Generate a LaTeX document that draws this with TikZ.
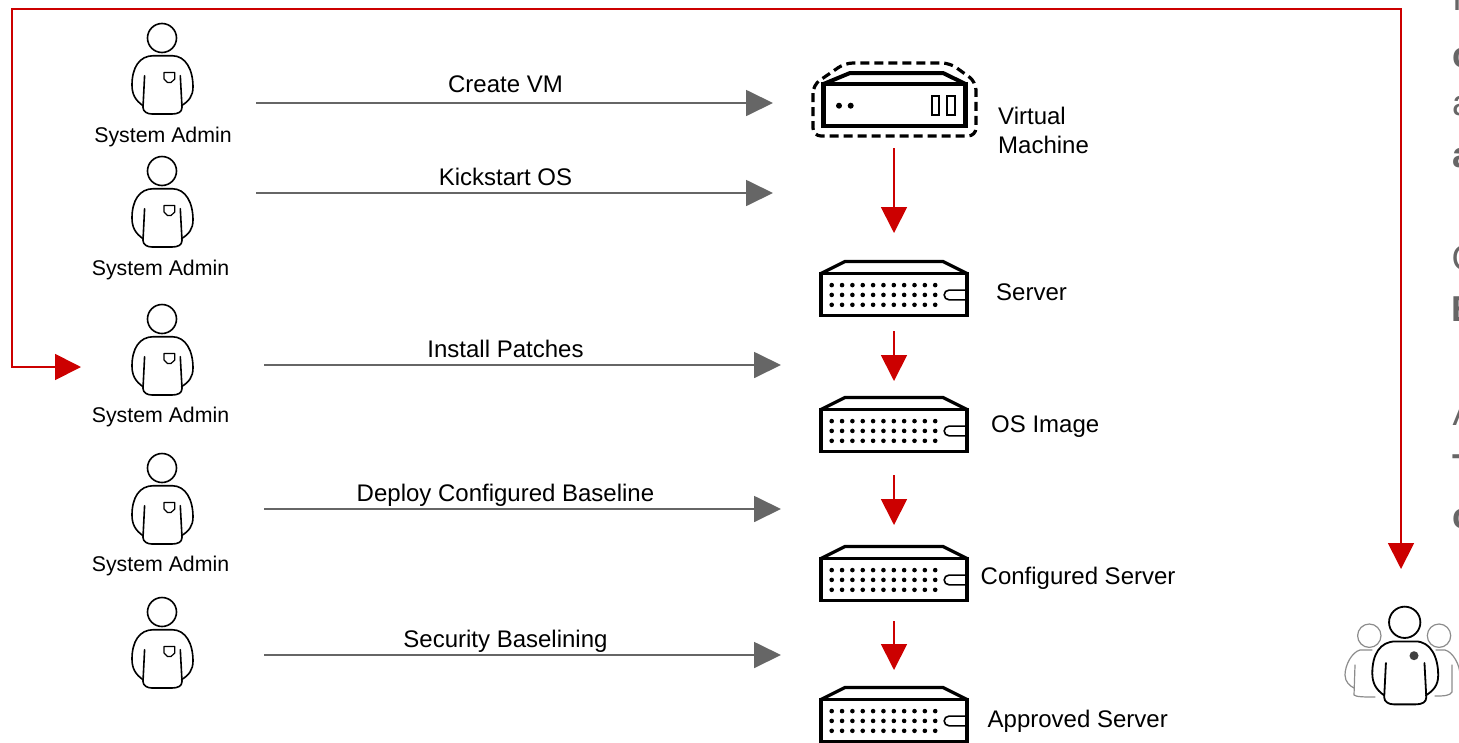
\documentclass[tikz,border=0pt]{standalone}
\usepackage{fontspec}
\setmainfont{Liberation Sans}
\usetikzlibrary{arrows.meta}
\definecolor{flowred}{HTML}{CC0000}
\definecolor{flowgray}{HTML}{666666}
\tikzset{
  lab/.style={inner sep=0pt,font=\fontsize{24}{29}\selectfont,text=black,align=left},
  adminlab/.style={inner sep=0pt,font=\fontsize{21.3}{25}\selectfont,text=black},
  cutlab/.style={inner sep=0pt,anchor=base west,font=\fontsize{36}{36}\selectfont,text=flowgray},
  cutbold/.style={cutlab,font=\fontsize{36}{36}\selectfont\bfseries},
  grayarrow/.style={draw=flowgray,line width=1.8pt,-{Triangle[length=27pt,width=26pt]}},
  redarrow/.style={draw=flowred,line width=1.8pt,-{Triangle[length=26pt,width=26pt]}},
  redloop/.style={draw=flowred,line width=1.8pt,{Triangle[length=26pt,width=26pt]}-{Triangle[length=26pt,width=26pt]}},
  person/.pic={
    \draw[pic actions] (0,0) circle[radius=14.5];
    \draw[pic actions,line join=round,line cap=round] (-19,67.7) .. controls (-27,62) and (-30,56) .. (-30,47)
      .. controls (-30,30) and (-23,17.7) .. (-8.4,17.7) -- (10,17.7)
      .. controls (24,17.7) and (31,32) .. (31,49) .. controls (31,58) and (27,63) .. (19.5,67.7);
    \draw[pic actions,line join=round,line cap=round] (-17.4,37.7) -- (-19,69.4) .. controls (-19,73.5) and (-15,76) .. (-10,76)
      -- (10,76) .. controls (16,76) and (20,74) .. (20,69.4) -- (18.3,37.7);
  },
  pocket/.pic={
    \draw[pic actions,line join=round] (2,34.5) -- (12.8,34.5) -- (12.8,41) -- (9,44.5) -- (5.5,44.5) -- (2,41) -- cycle;
  },
  serverbox/.pic={
    \draw[line width=3.3pt,line join=miter,fill=white] (-73,12) -- (-73,54) -- (73,54) -- (73,12) -- cycle;
    \draw[line width=3.3pt,line join=round] (-73,12) -- (-49,0) -- (49,0) -- (73,12);
    \foreach \c in {0,...,10}{\foreach \r in {23.6,33.4,43.3}{
      \fill (-62.3+10.35*\c,\r) circle[radius=2.3];}}
    \draw[line width=1.6pt] (73,28.6) -- (55,28.6) arc[start angle=270,end angle=90,radius=4.85] -- (73,38.3);
  }
}
\begin{document}
\begin{tikzpicture}[x=1pt,y=-1pt]
\useasboundingbox (0,0) rectangle (1459,742);
\begin{scope}
\clip (0,0) rectangle (1459,742);

% administrators
\foreach \n/\y in {1/38,2/171,3/319,4/468,5/612}{
  \pic[line width=1.6pt] at (162,\y) {person};
  \pic[line width=1.2pt] at (162,\y) {pocket};
}
\node[adminlab] (adm1) at (163,137) {System Admin};
\node[adminlab] (adm2) at (160.5,270) {System Admin};
\node[adminlab] (adm3) at (160.5,417) {System Admin};
\node[adminlab] (adm4) at (160.5,566) {System Admin};

% virtual machine
\draw[line width=4.4pt,line join=miter] (823.5,84) -- (823.5,126) -- (965.5,126) -- (965.5,84) -- cycle;
\draw[line width=4pt,line join=round] (823.5,84) -- (850,73) -- (943,73) -- (965.5,84);
\fill (839,105.7) circle[radius=3];
\fill (850.7,105.7) circle[radius=3];
\draw[line width=2pt] (932,95.5) rectangle (938.5,115);
\draw[line width=2pt] (947,95.5) rectangle (955,115);
\draw[line width=3.2pt,dash pattern=on 9pt off 5pt,rounded corners=8pt] (813,85) -- (813,136) -- (976,136) -- (976,82) -- (950,63) -- (845,63) -- cycle;

% servers
\pic at (894,261.5) {serverbox};
\pic at (894,397.5) {serverbox};
\pic at (894,546.5) {serverbox};
\pic at (894,687.5) {serverbox};

% labels
\node[lab,anchor=west] (lvm) at (998,130) {Virtual\\Machine};
\node[lab,anchor=west] (ls1) at (996,292) {Server};
\node[lab,anchor=west] (ls2) at (991,427) {OS Image};
\node[lab,anchor=west] (ls3) at (980.5,578) {Configured Server};
\node[lab,anchor=west] (ls4) at (987.5,721) {Approved Server};

% action labels
\node[lab] (t1) at (505.5,84) {Create VM};
\node[lab] (t2) at (505.5,177) {Kickstart OS};
\node[lab] (t3) at (505.5,349) {Install Patches};
\node[lab] (t4) at (505.5,495) {Deploy Configured Baseline};
\node[lab] (t5) at (505.5,641) {Security Baselining};

% connector ends
\coordinate (a1s) at (256,103);  \coordinate (a1e) at (773,103);
\coordinate (a2s) at (256,193);  \coordinate (a2e) at (773,193);
\coordinate (a3s) at (264,365);  \coordinate (a3e) at (781,365);
\coordinate (a4s) at (264,509);  \coordinate (a4e) at (781,509);
\coordinate (a5s) at (264,655);  \coordinate (a5e) at (781,655);
\draw[grayarrow] (a1s) -- (a1e);
\draw[grayarrow] (a2s) -- (a2e);
\draw[grayarrow] (a3s) -- (a3e);
\draw[grayarrow] (a4s) -- (a4e);
\draw[grayarrow] (a5s) -- (a5e);

\coordinate (r1s) at (894,148); \coordinate (r1e) at (894,233);
\coordinate (r2s) at (894,331); \coordinate (r2e) at (894,381);
\coordinate (r3s) at (894,475); \coordinate (r3e) at (894,525);
\coordinate (r4s) at (894,621); \coordinate (r4e) at (894,670);
\draw[redarrow] (r1s) -- (r1e);
\draw[redarrow] (r2s) -- (r2e);
\draw[redarrow] (r3s) -- (r3e);
\draw[redarrow] (r4s) -- (r4e);

\coordinate (loopA) at (81,367);
\coordinate (loopB) at (1401,569);
\coordinate (loopC) at (12,9);
\coordinate (loopD) at (1401,9);
\draw[redloop] (loopA) -- (loopA -| loopC) -- (loopC) -- (loopD) -- (loopB);

% team
\begin{scope}[draw=black!45,line width=1.2pt,line join=round,line cap=round]
  \draw (1369.3,635.7) circle[radius=11.7];
  \draw (1439,635.7) circle[radius=11.7];
  \draw (1372,650) -- (1360,650) .. controls (1352,652) and (1345,665) .. (1345,675) .. controls (1345,682) and (1350,686) .. (1354,688);
  \draw (1355,665) -- (1354,695) .. controls (1356,697) and (1365,697) .. (1375,697);
  \draw (1436,650) -- (1445,650) .. controls (1453,652) and (1460,665) .. (1460,675);
  \draw (1452,665) -- (1452,692) .. controls (1450,696) and (1443,696) .. (1435,696);
\end{scope}
\pic[line width=1.8pt,scale=1.08,transform shape] at (1404.7,622.3) {person};
\fill[black!75] (1414,655.7) circle[radius=4.5];

% text cut off by the right edge
\node[cutlab] (c1) at (1452,10) {I};
\node[cutbold] (c2) at (1452,67) {c};
\node[cutlab] (c3) at (1452,115) {a};
\node[cutbold] (c4) at (1452,167) {a};
\node[cutlab] (c5) at (1451.5,270) {C};
\node[cutbold] (c6) at (1451.5,321) {E};
\node[cutlab] (c7) at (1452.5,425) {A};
\node[cutbold] (c8) at (1452,479) {T};
\node[cutbold] (c9) at (1452,528) {c};
\end{scope}
\end{tikzpicture}
\end{document}
